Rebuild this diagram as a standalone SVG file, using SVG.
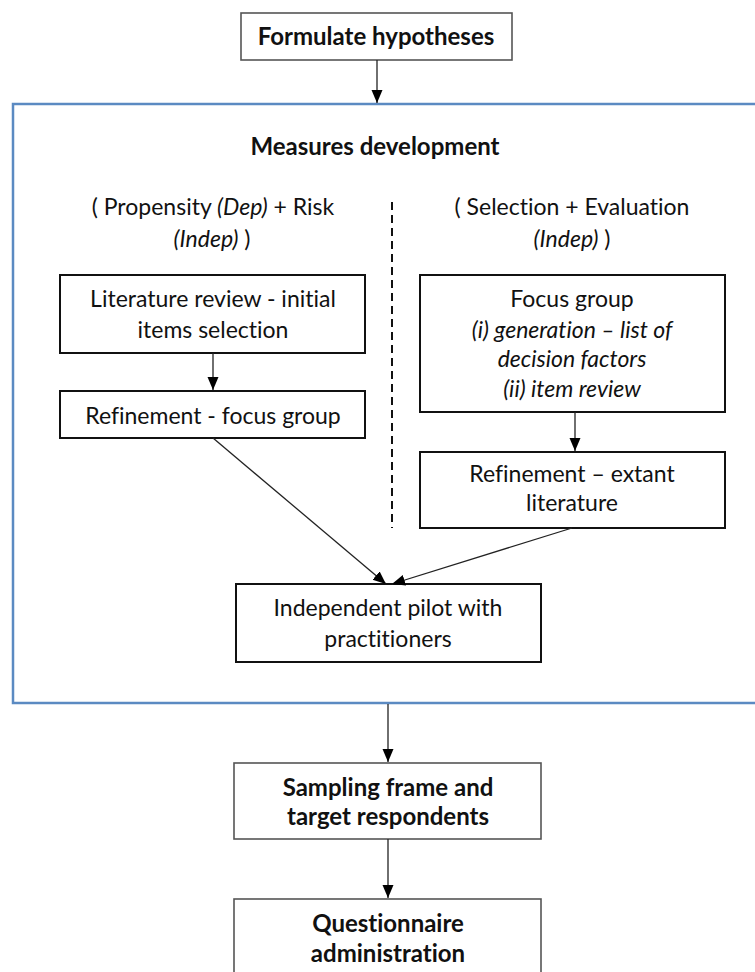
<svg xmlns="http://www.w3.org/2000/svg" width="755" height="972" viewBox="0 0 755 972">
<defs>
<marker id="arr" markerUnits="userSpaceOnUse" markerWidth="13" markerHeight="12" refX="13" refY="5.5" orient="auto">
<path d="M0,0 L13,5.5 L0,11 z" fill="#000"/>
</marker>
<style>
text{font-family:Lato,"Liberation Sans",sans-serif;font-size:23px;fill:#111;text-anchor:middle;font-variant-ligatures:none}
.b{font-weight:bold;font-size:24px}
.i{font-style:italic}
.outer{fill:#fff;stroke:#555;stroke-width:1.6}
.inner{fill:#fff;stroke:#111;stroke-width:2}
.con{stroke:#222;stroke-width:1.3;fill:none;marker-end:url(#arr)}
</style>
</defs>
<rect width="755" height="972" fill="#fff"/>
<g id="measures">
<rect x="13" y="104" width="760" height="599" fill="none" stroke="#5b8ac2" stroke-width="2.5"/>
<text class="b" x="375" y="155">Measures development</text>
<text x="213" y="215">( Propensity <tspan class="i">(Dep)</tspan> + Risk</text>
<text x="212" y="247"><tspan class="i">(Indep)</tspan> )</text>
<text x="572" y="215">( Selection + Evaluation</text>
<text x="572" y="247"><tspan class="i">(Indep)</tspan> )</text>
<line x1="392" y1="202" x2="392" y2="528" stroke="#111" stroke-width="2" stroke-dasharray="8,5"/>
</g>
<g id="hypotheses">
<rect class="outer" x="241" y="13" width="271" height="47"/>
<text class="b" x="376" y="45">Formulate hypotheses</text>
</g>
<g id="litreview">
<rect class="inner" x="60" y="275" width="305" height="78"/>
<text x="213" y="307">Literature review - initial</text>
<text x="213" y="338">items selection</text>
</g>
<g id="refine-focus">
<rect class="inner" x="60" y="391" width="305" height="47"/>
<text x="213" y="424">Refinement  - focus group</text>
</g>
<g id="focusgroup">
<rect class="inner" x="420" y="275" width="305" height="137"/>
<text x="572" y="307">Focus group</text>
<text class="i" x="572" y="338">(i) generation – list of</text>
<text class="i" x="572" y="367">decision factors</text>
<text class="i" x="572" y="397">(ii) item review</text>
</g>
<g id="refine-lit">
<rect class="inner" x="420" y="452" width="305" height="76"/>
<text x="572" y="482">Refinement – extant</text>
<text x="572" y="511">literature</text>
</g>
<g id="pilot">
<rect class="inner" x="236" y="584" width="305" height="78"/>
<text x="388" y="616">Independent pilot with</text>
<text x="388" y="647">practitioners</text>
</g>
<g id="sampling">
<rect class="outer" x="234" y="763" width="307" height="76"/>
<text class="b" x="388" y="796">Sampling frame and</text>
<text class="b" x="388" y="825">target respondents</text>
</g>
<g id="questionnaire">
<rect class="outer" x="234" y="899" width="307" height="100"/>
<text class="b" x="388" y="932">Questionnaire</text>
<text class="b" x="388" y="962">administration</text>
</g>
<g id="connectors">
<line class="con" x1="377" y1="60" x2="377" y2="103"/>
<line class="con" x1="213" y1="353" x2="213" y2="390"/>
<line class="con" x1="575" y1="412" x2="575" y2="451"/>
<line class="con" x1="213" y1="438" x2="386" y2="584"/>
<line class="con" x1="572" y1="528" x2="392" y2="584"/>
<line class="con" x1="388" y1="704" x2="388" y2="762"/>
<line class="con" x1="388" y1="839" x2="388" y2="898"/>
</g>
</svg>
